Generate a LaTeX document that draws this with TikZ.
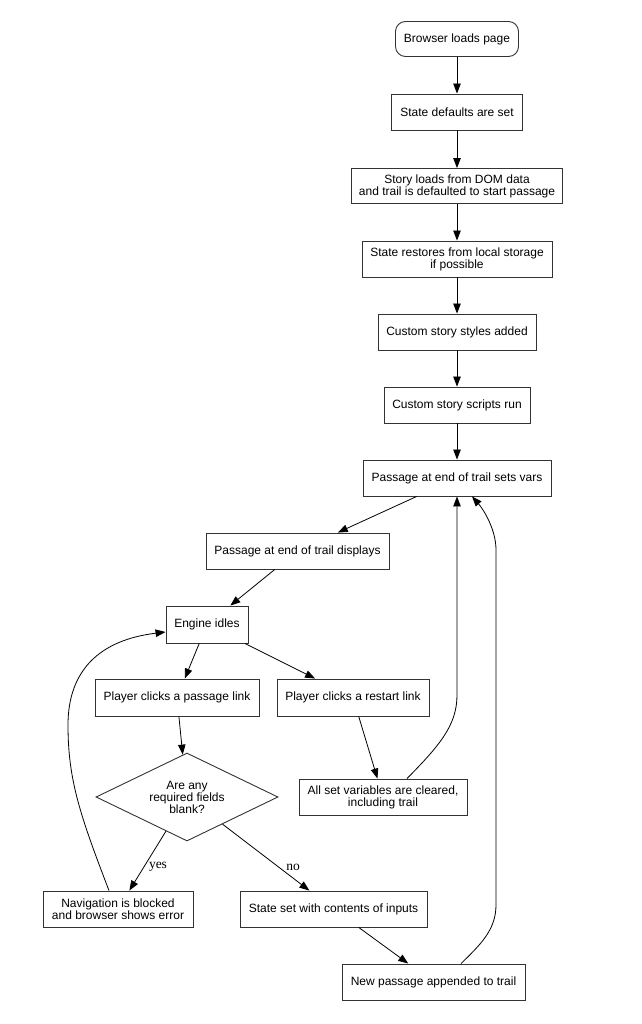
\documentclass[tikz,border=0pt]{standalone}
\usepackage{fontspec}
\setmainfont{Liberation Sans}
\newfontfamily\labelfont{Liberation Serif}
\usetikzlibrary{arrows.meta,shapes.geometric}
\begin{document}
\begin{tikzpicture}[x=1pt,y=-1pt,
  box/.style={draw=black!80, line width=0.9pt, rectangle, minimum height=36pt,
    inner sep=2pt, align=center, font=\fontsize{12}{12}\selectfont},
  dia/.style={draw=black!80, line width=0.9pt, diamond, aspect=2.07,
    minimum width=182pt, minimum height=88pt, inner sep=0pt, align=center,
    font=\fontsize{12}{12}\selectfont},
  edge/.style={draw=black, line width=0.8pt, -{Triangle[length=10pt,width=7.5pt]}},
  lbl/.style={font=\labelfont\fontsize{13.5}{14}\selectfont, inner sep=0pt}]
\useasboundingbox (0,0) rectangle (641,1024);

\node[box, rounded corners=10pt, minimum width=123pt, minimum height=35pt] (n1) at (457,39) {Browser loads page};
\node[box, minimum width=131pt] (n2) at (457,112) {State defaults are set};
\node[box, minimum width=211pt, minimum height=35pt] (n3) at (457,186) {Story loads from DOM data\\and trail is defaulted to start passage};
\node[box, minimum width=190pt] (n4) at (457,259) {State restores from local storage\\if possible};
\node[box, minimum width=158pt] (n5) at (457,332) {Custom story styles added};
\node[box, minimum width=146pt] (n6) at (457,405) {Custom story scripts run};
\node[box, minimum width=188pt] (n7) at (457,478) {Passage at end of trail sets vars};
\node[box, minimum width=183pt] (n8) at (297.5,551) {Passage at end of trail displays};
\node[box, minimum width=82pt, minimum height=37pt] (n9) at (207,624.5) {Engine idles};
\node[box, minimum width=164pt, minimum height=37pt] (n10) at (177,697.5) {Player clicks a passage link};
\node[box, minimum width=152pt, minimum height=37pt] (n11) at (353,697.5) {Player clicks a restart link};
\node[dia] (d) at (187,797) {Are any\\required fields\\blank?};
\node[box, minimum width=168pt] (n12) at (383,797) {All set variables are cleared,\\including trail};
\node[box, minimum width=150pt] (n13) at (118,909) {Navigation is blocked\\and browser shows error};
\node[box, minimum width=187pt] (n14) at (333.5,909) {State set with contents of inputs};
\node[box, minimum width=183pt] (n15) at (433.5,982) {New passage appended to trail};

\node[lbl] (yes) at (158,867) {yes};
\node[lbl] (no) at (293,867) {no};

\draw[edge] (n1) -- (n2);
\draw[edge] (n2) -- (n3);
\draw[edge] (n3) -- (n4);
\draw[edge] (n4) -- (n5);
\draw[edge] (n5) -- (n6);
\draw[edge] (n6) -- (n7);
\draw[edge] (n7) -- (n8);
\draw[edge] (n8) -- (n9);
\draw[edge] (n9) -- (n10);
\draw[edge] (n9) -- (n11);
\draw[edge] (n10) -- (d);
\draw[edge] (n11) -- (n12);
\draw[edge] (d) -- (n13);
\draw[edge] (d) -- (n14);
\draw[edge] (n14) -- (n15);

\draw[edge] ([xshift=24pt]n12.north) .. controls (440,745) and (457,725) .. (457,695) -- (n7.south);
\draw[edge] ([xshift=27.5pt]n15.north) .. controls (480,945) and (496,930) .. (496,905)
  -- (496,550) .. controls (496,530) and (484,510) .. ([xshift=15pt]n7.south);
\draw[edge] ([xshift=-9pt]n13.north) .. controls (80,815) and (68,780) .. (68,725)
  .. controls (68,670) and (100,640) .. ([yshift=-7.5pt]n9.west);
\end{tikzpicture}
\end{document}
